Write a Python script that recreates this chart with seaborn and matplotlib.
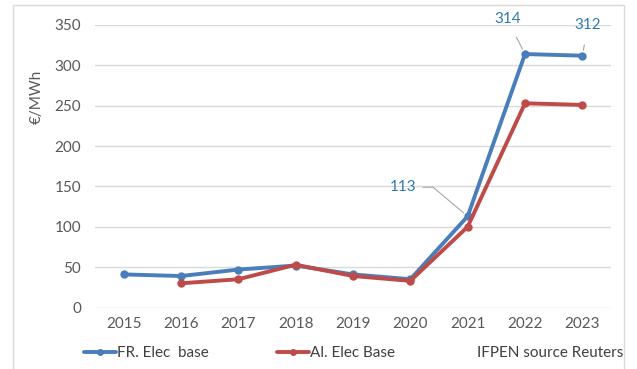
import matplotlib
matplotlib.use("Agg")
import matplotlib.pyplot as plt
from matplotlib.lines import Line2D
from matplotlib.patches import Rectangle
import numpy as np
import pandas as pd
import seaborn as sns

# Annual baseload electricity prices, €/MWh
years = [2015, 2016, 2017, 2018, 2019, 2020, 2021, 2022, 2023]
fr_base = [41, 39, 47, 52, 41, 35, 113, 314, 312]
al_base = [np.nan, 30, 35, 53, 39, 33, 100, 253, 251]
series_names = ["FR. Elec  base", "Al. Elec Base"]
series_colors = ["#4A7EBB", "#BE4B48"]
source_text = "IFPEN source Reuters"
y_ticks = [0, 50, 100, 150, 200, 250, 300, 350]

df = pd.DataFrame({
    "year": years * 2,
    "price": fr_base + al_base,
    "series": [series_names[0]] * len(years) + [series_names[1]] * len(years),
}).dropna()

sns.set_theme(style="white")
plt.rcParams["font.family"] = ["Lato", "DejaVu Sans"]
FS = 11

fig = plt.figure(figsize=(6.37, 3.69), dpi=100)
ax = fig.add_axes([95 / 637, 1 - 307.5 / 369, 516 / 637, 282.5 / 369])

# outer chart frame
fig.patches.append(Rectangle((13 / 637, -0.1), 611 / 637, 1.086,
                             transform=fig.transFigure, fill=False,
                             edgecolor="#D9D9D9", linewidth=1.0, zorder=0))

sns.lineplot(data=df, x="year", y="price", hue="series",
             hue_order=series_names, palette=series_colors,
             marker="o", markersize=6, markeredgewidth=0,
             linewidth=2.8, legend=False, ax=ax, zorder=3)

ax.set_xlim(years[0] - 0.5, years[-1] + 0.5)
ax.set_ylim(0, 350)
ax.set_xticks(years)
ax.set_xticklabels([str(y) for y in years])
ax.set_yticks(y_ticks)
ax.yaxis.grid(True, color="#D9D9D9", linewidth=1.0)
ax.xaxis.grid(False)
for s in ax.spines.values():
    s.set_visible(False)
ax.tick_params(axis="both", length=0, labelsize=FS, colors="#595959")
ax.tick_params(axis="y", pad=10)
ax.tick_params(axis="x", pad=7)
ax.set_xlabel("")
ax.set_ylabel("€/MWh", fontsize=FS, color="#595959")
ax.yaxis.set_label_coords(-0.1, 0.745)

# value labels on the French series
lab_color = "#2F7AB0"
lead = dict(arrowstyle="-", color="#A6A6A6", linewidth=0.8)
ax.annotate(f"{fr_base[6]}", xy=(years[6], fr_base[6]), xytext=(2019.88, 149),
            ha="center", va="center", fontsize=FS, color=lab_color,
            arrowprops=dict(**lead, shrinkA=2, shrinkB=4,
                            connectionstyle="angle,angleA=0,angleB=-40,rad=0"),
            annotation_clip=False)
ax.annotate(f"{fr_base[7]}", xy=(years[7], fr_base[7]), xytext=(2021.69, 357),
            ha="center", va="center", fontsize=FS, color=lab_color,
            arrowprops=dict(**lead, shrinkA=6, shrinkB=4),
            annotation_clip=False)
ax.annotate(f"{fr_base[8]}", xy=(years[8], fr_base[8]), xytext=(2023.1, 350),
            ha="center", va="center", fontsize=FS, color=lab_color,
            arrowprops=dict(**lead, shrinkA=7, shrinkB=4),
            annotation_clip=False)

handles = [Line2D([0], [0], color=c, linewidth=2.8, marker="o",
                  markersize=5, markeredgewidth=0) for c in series_colors]
fig.legend(handles, series_names, loc="center left",
           bbox_to_anchor=(84 / 637, 1 - 353 / 369),
           bbox_transform=fig.transFigure, ncol=2, frameon=False,
           fontsize=FS, labelcolor="#404040", handlelength=2.1,
           handletextpad=0.05, columnspacing=4.5, borderpad=0,
           borderaxespad=0)
fig.text(623 / 637, 1 - 353 / 369, source_text, ha="right", va="center",
         fontsize=FS, color="#404040")

fig.savefig("out.png", dpi=100)
